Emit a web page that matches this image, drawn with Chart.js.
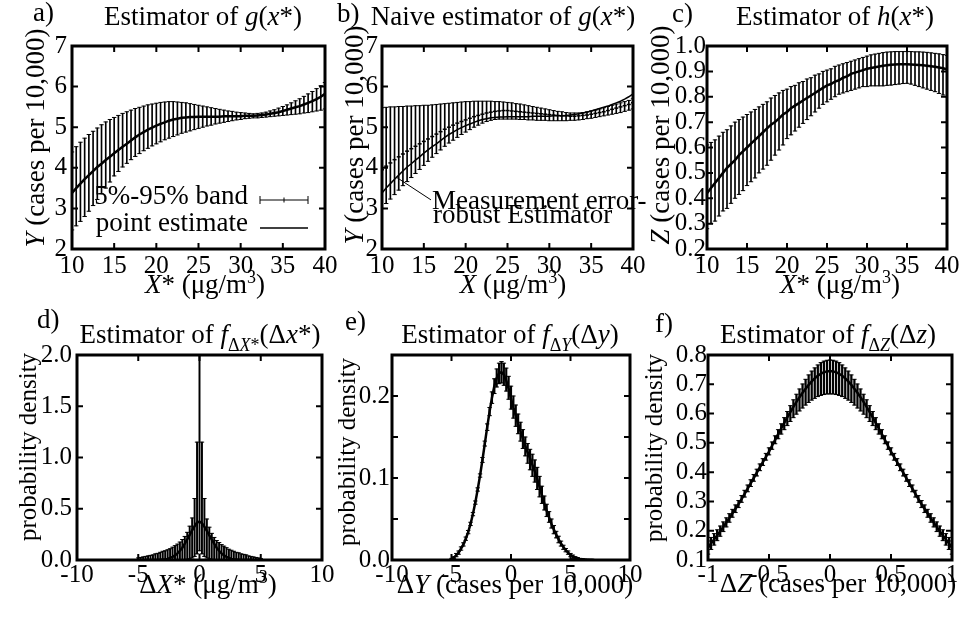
<!DOCTYPE html>
<html>
<head>
<meta charset="utf-8">
<script src="https://cdn.jsdelivr.net/npm/chart.js@4.4.1/dist/chart.umd.min.js"></script>
<style>
html, body { margin: 0; padding: 0; background: #fff; }
#wrap { position: relative; width: 962px; height: 618px; }
#wrap canvas { position: absolute; left: 0; top: 0; }
</style>
</head>
<body>
<div id="wrap">
<canvas id="pa" width="962" height="618"></canvas>
<canvas id="pb" width="962" height="618"></canvas>
<canvas id="pc" width="962" height="618"></canvas>
<canvas id="pd" width="962" height="618"></canvas>
<canvas id="pe" width="962" height="618"></canvas>
<canvas id="pf" width="962" height="618"></canvas>
</div>
<script>
// ---- data ----
// top row: X* (ug/m3), grid 10..40
const xTop = [10,10.5,11,11.5,12,12.5,13,13.5,14,14.5,15,15.5,16,16.5,17,17.5,18,18.5,19,19.5,
  20,20.5,21,21.5,22,22.5,23,23.5,24,24.5,25,25.5,26,26.5,27,27.5,28,28.5,29,29.5,
  30,30.5,31,31.5,32,32.5,33,33.5,34,34.5,35,35.5,36,36.5,37,37.5,38,38.5,39,39.5,40];

// a) estimator of g(x*)
const aMean = [3.38,3.50,3.61,3.72,3.82,3.92,4.02,4.10,4.19,4.27,
  4.36,4.44,4.52,4.59,4.67,4.75,4.82,4.88,4.94,4.99,
  5.04,5.08,5.12,5.16,5.19,5.21,5.23,5.24,5.25,5.25,
  5.26,5.26,5.26,5.26,5.26,5.26,5.27,5.27,5.27,5.27,
  5.27,5.28,5.28,5.28,5.29,5.30,5.31,5.33,5.35,5.37,
  5.40,5.43,5.46,5.49,5.52,5.56,5.60,5.64,5.69,5.75,5.82];
const aUp = [4.39,4.52,4.63,4.73,4.82,4.90,4.98,5.06,5.13,5.19,
  5.24,5.29,5.34,5.38,5.42,5.46,5.49,5.52,5.55,5.57,
  5.59,5.61,5.62,5.63,5.63,5.62,5.61,5.60,5.58,5.56,
  5.54,5.52,5.50,5.48,5.46,5.44,5.42,5.40,5.39,5.37,
  5.36,5.35,5.34,5.33,5.34,5.35,5.37,5.40,5.43,5.47,
  5.51,5.55,5.60,5.65,5.70,5.76,5.82,5.88,5.95,6.02,6.10];
const aLow = [2.47,2.57,2.68,2.80,2.93,3.07,3.22,3.36,3.50,3.65,
  3.80,3.91,4.02,4.11,4.20,4.28,4.35,4.42,4.48,4.54,
  4.59,4.64,4.69,4.73,4.77,4.81,4.85,4.88,4.91,4.94,
  4.97,5.00,5.03,5.05,5.08,5.10,5.12,5.14,5.16,5.18,
  5.19,5.21,5.22,5.23,5.23,5.24,5.25,5.26,5.27,5.28,
  5.29,5.30,5.31,5.32,5.33,5.35,5.36,5.38,5.40,5.42,5.45];

// b) naive estimator of g(x*)
const bNaive = [3.95,4.04,4.12,4.20,4.27,4.34,4.41,4.47,4.53,4.59,
  4.65,4.71,4.77,4.83,4.89,4.95,5.00,5.05,5.10,5.14,
  5.18,5.22,5.26,5.29,5.32,5.35,5.37,5.39,5.40,5.41,
  5.41,5.40,5.39,5.38,5.37,5.36,5.35,5.34,5.33,5.32,
  5.31,5.30,5.29,5.28,5.28,5.27,5.27,5.28,5.29,5.30,
  5.32,5.34,5.36,5.38,5.41,5.44,5.47,5.50,5.53,5.56,5.60];
const bUp = [5.48,5.49,5.50,5.50,5.51,5.51,5.52,5.52,5.53,5.53,
  5.54,5.54,5.55,5.56,5.57,5.58,5.59,5.60,5.61,5.62,
  5.63,5.63,5.64,5.64,5.64,5.64,5.64,5.63,5.63,5.62,
  5.61,5.60,5.58,5.57,5.55,5.53,5.51,5.49,5.47,5.45,
  5.43,5.41,5.39,5.38,5.36,5.35,5.35,5.35,5.36,5.38,
  5.40,5.42,5.45,5.48,5.51,5.54,5.57,5.60,5.63,5.66,5.70];
const bLow = [3.00,3.12,3.23,3.34,3.45,3.56,3.66,3.76,3.86,3.96,
  4.06,4.16,4.26,4.35,4.44,4.53,4.61,4.68,4.75,4.82,
  4.88,4.94,5.00,5.05,5.10,5.14,5.17,5.19,5.20,5.20,
  5.20,5.20,5.20,5.19,5.19,5.18,5.18,5.17,5.17,5.17,
  5.16,5.16,5.16,5.16,5.16,5.17,5.17,5.18,5.19,5.21,
  5.22,5.24,5.26,5.28,5.30,5.32,5.34,5.36,5.39,5.42,5.45];
// pointer from the label to the robust curve
const bNoteX = [11.7, 15.85];
const bNoteY = [3.77, 3.21];

// c) estimator of h(x*)
const cMean = [0.42,0.44,0.46,0.48,0.50,0.52,0.535,0.55,0.57,0.585,
  0.60,0.615,0.63,0.645,0.66,0.675,0.69,0.70,0.715,0.73,
  0.74,0.755,0.765,0.775,0.785,0.795,0.805,0.815,0.825,0.835,
  0.845,0.85,0.86,0.865,0.875,0.88,0.89,0.895,0.90,0.905,
  0.91,0.913,0.916,0.919,0.922,0.924,0.926,0.927,0.928,0.928,
  0.928,0.927,0.926,0.925,0.924,0.922,0.92,0.918,0.915,0.912,0.908];
const cUp = [0.61,0.62,0.63,0.645,0.66,0.67,0.685,0.70,0.71,0.72,
  0.73,0.74,0.75,0.76,0.77,0.78,0.795,0.805,0.815,0.825,
  0.83,0.84,0.845,0.855,0.86,0.87,0.875,0.885,0.89,0.90,
  0.905,0.91,0.92,0.925,0.93,0.935,0.94,0.945,0.95,0.955,
  0.96,0.965,0.968,0.971,0.974,0.976,0.977,0.978,0.978,0.978,
  0.978,0.978,0.977,0.977,0.976,0.975,0.973,0.971,0.969,0.966,0.963];
const cLow = [0.28,0.30,0.31,0.33,0.35,0.36,0.38,0.40,0.415,0.43,
  0.45,0.465,0.48,0.50,0.515,0.53,0.55,0.57,0.59,0.61,
  0.635,0.65,0.665,0.68,0.695,0.71,0.725,0.74,0.755,0.77,
  0.78,0.79,0.80,0.81,0.815,0.82,0.825,0.83,0.835,0.84,
  0.84,0.843,0.843,0.843,0.843,0.845,0.846,0.848,0.85,0.852,
  0.853,0.85,0.845,0.84,0.835,0.83,0.825,0.82,0.813,0.807,0.80];

// d) density of delta X*
const dX = [-5,-4.8,-4.6,-4.4,-4.2,-4,-3.8,-3.6,-3.4,-3.2,
  -3,-2.8,-2.6,-2.4,-2.2,-2,-1.8,-1.6,-1.4,-1.2,
  -1,-0.8,-0.6,-0.4,-0.2,0,0.2,0.4,0.6,0.8,
  1,1.2,1.4,1.6,1.8,2,2.2,2.4,2.6,2.8,
  3,3.2,3.4,3.6,3.8,4,4.2,4.4,4.6,4.8,5];
const dMean = [0,0,0,0,0,0,0,0,0,0.002,
  0.004,0.006,0.01,0.02,0.03,0.045,0.065,0.09,0.12,0.16,
  0.20,0.245,0.29,0.33,0.365,0.375,0.36,0.325,0.285,0.24,
  0.20,0.16,0.12,0.09,0.065,0.045,0.03,0.02,0.01,0.006,
  0.004,0.002,0,0,0,0,0,0,0,0,0];
const dUp = [0.02,0.025,0.03,0.035,0.04,0.045,0.05,0.06,0.065,0.075,
  0.085,0.09,0.10,0.11,0.125,0.14,0.155,0.175,0.20,0.23,
  0.27,0.33,0.41,0.60,1.15,2.10,1.15,0.60,0.40,0.32,
  0.26,0.22,0.19,0.17,0.15,0.135,0.12,0.105,0.095,0.085,
  0.075,0.07,0.06,0.055,0.05,0.04,0.035,0.03,0.025,0.02,0.015];
const dLow = [0,0,0,0,0,0,0,0,0,0,
  0,0,0,0,0,0,0,0,0.003,0.005,
  0.008,0.012,0.02,0.035,0.06,0.09,0.06,0.035,0.02,0.012,
  0.008,0.005,0.003,0,0,0,0,0,0,0,
  0,0,0,0,0,0,0,0,0,0,0];

// e) density of delta Y
const eX = [-5,-4.8,-4.6,-4.4,-4.2,-4,-3.8,-3.6,-3.4,-3.2,
  -3,-2.8,-2.6,-2.4,-2.2,-2,-1.8,-1.6,-1.4,-1.2,
  -1,-0.8,-0.6,-0.4,-0.2,0,0.2,0.4,0.6,0.8,
  1,1.2,1.4,1.6,1.8,2,2.2,2.4,2.6,2.8,
  3,3.2,3.4,3.6,3.8,4,4.2,4.4,4.6,4.8,
  5,5.2,5.4,5.6,5.8,6,6.2,6.4,6.6,6.8,7];
const eMean = [0.001,0.003,0.006,0.009,0.014,0.019,0.026,0.034,0.044,0.056,
  0.070,0.086,0.103,0.122,0.142,0.162,0.181,0.198,0.212,0.222,
  0.228,0.229,0.226,0.219,0.209,0.197,0.186,0.176,0.166,0.157,
  0.148,0.139,0.131,0.124,0.116,0.108,0.099,0.089,0.079,0.069,
  0.060,0.052,0.044,0.037,0.031,0.025,0.020,0.016,0.012,0.009,
  0.006,0.004,0.003,0.002,0.001,0.0008,0.0005,0.0004,0.0003,0.0002,0.0001];
const eUp = [0.002,0.004,0.008,0.011,0.016,0.021,0.028,0.036,0.046,0.058,
  0.072,0.088,0.105,0.125,0.145,0.166,0.186,0.205,0.221,0.233,
  0.240,0.242,0.240,0.234,0.224,0.212,0.200,0.189,0.178,0.168,
  0.159,0.150,0.142,0.135,0.129,0.122,0.113,0.102,0.090,0.078,
  0.068,0.059,0.050,0.042,0.035,0.029,0.023,0.018,0.014,0.011,
  0.008,0.006,0.004,0.003,0.002,0.0015,0.001,0.0008,0.0006,0.0004,0.0003];
const eLow = [0,0.002,0.004,0.007,0.012,0.017,0.024,0.032,0.042,0.054,
  0.068,0.084,0.101,0.119,0.139,0.158,0.176,0.191,0.203,0.211,
  0.215,0.216,0.213,0.206,0.196,0.184,0.173,0.163,0.154,0.145,
  0.136,0.127,0.118,0.110,0.102,0.095,0.086,0.077,0.069,0.061,
  0.053,0.046,0.039,0.032,0.027,0.021,0.017,0.013,0.010,0.007,
  0.004,0.002,0.001,0.001,0,0,0,0,0,0,0];

// f) density of delta Z
const fX = [-1,-0.975,-0.95,-0.925,-0.9,-0.875,-0.85,-0.825,-0.8,-0.775,
  -0.75,-0.725,-0.7,-0.675,-0.65,-0.625,-0.6,-0.575,-0.55,-0.525,
  -0.5,-0.475,-0.45,-0.425,-0.4,-0.375,-0.35,-0.325,-0.3,-0.275,
  -0.25,-0.225,-0.2,-0.175,-0.15,-0.125,-0.1,-0.075,-0.05,-0.025,
  0,0.025,0.05,0.075,0.1,0.125,0.15,0.175,0.2,0.225,
  0.25,0.275,0.3,0.325,0.35,0.375,0.4,0.425,0.45,0.475,
  0.5,0.525,0.55,0.575,0.6,0.625,0.65,0.675,0.7,0.725,
  0.75,0.775,0.8,0.825,0.85,0.875,0.9,0.925,0.95,0.975,1];
const fMean = [0.142,0.156,0.170,0.184,0.198,0.213,0.228,0.243,0.259,0.275,
  0.291,0.308,0.326,0.344,0.362,0.380,0.398,0.416,0.434,0.452,
  0.470,0.490,0.510,0.530,0.549,0.568,0.587,0.605,0.623,0.640,
  0.656,0.671,0.685,0.698,0.710,0.720,0.729,0.736,0.741,0.744,
  0.745,0.744,0.741,0.736,0.729,0.720,0.710,0.698,0.685,0.671,
  0.656,0.640,0.623,0.605,0.587,0.568,0.549,0.530,0.510,0.490,
  0.470,0.452,0.434,0.416,0.398,0.380,0.362,0.344,0.326,0.308,
  0.291,0.275,0.259,0.243,0.228,0.213,0.198,0.184,0.170,0.156,0.142];
const fUp = [0.165,0.177,0.190,0.203,0.216,0.230,0.244,0.258,0.273,0.288,
  0.303,0.320,0.338,0.356,0.374,0.392,0.410,0.428,0.446,0.464,
  0.483,0.503,0.524,0.545,0.565,0.586,0.607,0.627,0.647,0.666,
  0.684,0.701,0.717,0.732,0.745,0.756,0.766,0.774,0.779,0.782,
  0.783,0.782,0.779,0.774,0.766,0.756,0.745,0.732,0.717,0.701,
  0.684,0.666,0.647,0.627,0.607,0.586,0.565,0.545,0.524,0.503,
  0.483,0.464,0.446,0.428,0.410,0.392,0.374,0.356,0.338,0.320,
  0.303,0.288,0.273,0.258,0.244,0.230,0.216,0.203,0.190,0.177,0.165];
const fLow = [0.120,0.136,0.151,0.166,0.181,0.197,0.213,0.229,0.246,0.262,
  0.279,0.297,0.315,0.333,0.351,0.369,0.387,0.405,0.423,0.441,
  0.459,0.478,0.497,0.514,0.530,0.545,0.559,0.573,0.586,0.598,
  0.609,0.619,0.629,0.638,0.646,0.652,0.658,0.662,0.665,0.667,
  0.667,0.667,0.665,0.662,0.658,0.652,0.646,0.638,0.629,0.619,
  0.609,0.598,0.586,0.573,0.559,0.545,0.530,0.514,0.497,0.478,
  0.459,0.441,0.423,0.405,0.387,0.369,0.351,0.333,0.315,0.297,
  0.279,0.262,0.246,0.229,0.213,0.197,0.181,0.166,0.151,0.136,0.120];

// ---- drawing helpers ----
const FONT = '"Liberation Serif", "Times New Roman", serif';
Chart.defaults.font.family = FONT;
Chart.defaults.color = '#000';

const W = 962, H = 618, YW = 40, XH = 30, TXT = 27;

function segFont(s, size) {
  const f = s[1] || '';
  const sz = (f.includes('b') || f.includes('p')) ? Math.round(size * 0.68) : size;
  return (f.includes('i') ? 'italic ' : '') + sz + 'px ' + FONT;
}

// segs: [[text, flags]] flags: i = italic, b = subscript, p = superscript
function drawRich(ctx, segs, x, y, size, align) {
  let w = 0;
  segs.forEach(s => { ctx.font = segFont(s, size); w += ctx.measureText(s[0]).width; });
  let cx = align === 'center' ? x - w / 2 : align === 'right' ? x - w : x;
  ctx.textAlign = 'left';
  segs.forEach(s => {
    const f = s[1] || '';
    ctx.font = segFont(s, size);
    const dy = f.includes('b') ? size * 0.28 : f.includes('p') ? -size * 0.36 : 0;
    ctx.fillText(s[0], cx, y + dy);
    cx += ctx.measureText(s[0]).width;
  });
}

function pairs(xs, ys) { return xs.map((x, i) => ({ x: x, y: ys[i] })); }

function makePanel(id, p) {
  const datasets = [];
  (p.lines || []).forEach(l => datasets.push({
    type: 'line', data: pairs(l.x || p.x, l.y), borderColor: '#000', borderWidth: l.w,
    pointRadius: 0, tension: 0, order: 0
  }));
  if (p.mid) datasets.push({
    type: 'line', showLine: false, data: pairs(p.x, p.mid), pointStyle: 'line',
    pointRadius: 2, borderColor: '#000', borderWidth: 1.5, order: 1
  });
  datasets.push({
    type: 'line', showLine: false, data: pairs(p.x, p.hi).concat(pairs(p.x, p.lo)),
    pointStyle: 'line', pointRadius: 2.2, borderColor: '#000', borderWidth: 1, order: 2
  });
  datasets.push({
    type: 'bar', data: p.x.map((x, i) => ({ x: x, y: [p.lo[i], p.hi[i]] })),
    backgroundColor: '#000', barThickness: p.barW || 1, borderWidth: 0, order: 3
  });

  const a = p.area;
  const deco = {
    id: 'deco',
    afterDraw(chart) {
      const ctx = chart.ctx, ca = chart.chartArea;
      const xs = chart.scales.x, ys = chart.scales.y;
      ctx.save();
      ctx.strokeStyle = '#000';
      ctx.fillStyle = '#000';
      ctx.lineWidth = 2;
      ctx.beginPath();
      xs.ticks.forEach(t => {
        const px = xs.getPixelForValue(t.value);
        if (px < ca.left + 2 || px > ca.right - 2) return;
        ctx.moveTo(px, ca.bottom); ctx.lineTo(px, ca.bottom - 6);
        ctx.moveTo(px, ca.top); ctx.lineTo(px, ca.top + 6);
      });
      ys.ticks.forEach(t => {
        const py = ys.getPixelForValue(t.value);
        if (py < ca.top + 2 || py > ca.bottom - 2) return;
        ctx.moveTo(ca.left, py); ctx.lineTo(ca.left + 6, py);
        ctx.moveTo(ca.right, py); ctx.lineTo(ca.right - 6, py);
      });
      ctx.stroke();
      ctx.lineWidth = 3;
      ctx.strokeRect(ca.left, ca.top, ca.right - ca.left, ca.bottom - ca.top);

      ctx.textBaseline = 'alphabetic';
      drawRich(ctx, [[p.tag[0]]], p.tag[1], p.tag[2], TXT, 'left');
      drawRich(ctx, p.title, p.titlePos[0], p.titlePos[1], TXT, 'center');
      drawRich(ctx, p.xTitle, p.xTitlePos[0], p.xTitlePos[1], TXT, 'center');
      ctx.save();
      ctx.translate(p.yTitlePos[0], p.yTitlePos[1]);
      ctx.rotate(-Math.PI / 2);
      drawRich(ctx, p.yTitle, 0, 0.3 * p.yTitleSize, p.yTitleSize, 'center');
      ctx.restore();
      if (p.extra) p.extra(ctx, chart);
      ctx.restore();
    }
  };

  return new Chart(document.getElementById(id), {
    type: 'bar',
    data: { datasets: datasets },
    options: {
      responsive: false,
      animation: false,
      events: [],
      layout: {
        autoPadding: false,
        padding: { left: a[0] - YW, top: a[1], right: W - a[2], bottom: H - a[3] - XH }
      },
      plugins: { legend: { display: false }, tooltip: { enabled: false } },
      scales: {
        x: {
          type: 'linear', min: p.xMin, max: p.xMax, offset: false,
          grid: { display: false, drawTicks: false, offset: false },
          border: { display: false },
          ticks: { stepSize: p.xStep, autoSkip: false, maxRotation: 0, padding: p.xPad,
                   color: '#000', font: { family: FONT, size: 25 }, callback: v => String(v) },
          afterFit: s => { s.height = XH; }
        },
        y: {
          type: 'linear', min: p.yMin, max: p.yMax,
          grid: { display: false, drawTicks: false },
          border: { display: false },
          ticks: { stepSize: p.yStep, autoSkip: false, padding: p.yPad,
                   color: '#000', font: { family: FONT, size: 25 }, callback: p.yFmt },
          afterFit: s => { s.width = YW; }
        }
      }
    },
    plugins: [deco]
  });
}

const int = v => String(v);
const one = v => v.toFixed(1);

makePanel('pa', {
  x: xTop, lo: aLow, hi: aUp, lines: [{ y: aMean, w: 2.5 }],
  xMin: 10, xMax: 40, xStep: 5, yMin: 2, yMax: 7, yStep: 1, yFmt: int,
  area: [72, 46, 325, 249], xPad: 2, yPad: 5,
  tag: ['a)', 33, 21],
  title: [['Estimator of '], ['g', 'i'], ['('], ['x', 'i'], ['*)']], titlePos: [203, 25],
  xTitle: [['X', 'i'], ['* (μg/m'], ['3', 'p'], [')']], xTitlePos: [205, 293],
  yTitle: [['Y', 'i'], [' (cases per 10,000)']], yTitlePos: [36, 138], yTitleSize: 27,
  extra: (ctx) => {
    drawRich(ctx, [['5%-95% band']], 248, 204, TXT, 'right');
    drawRich(ctx, [['point estimate']], 248, 231, TXT, 'right');
    ctx.lineWidth = 1;
    ctx.beginPath();
    ctx.moveTo(260, 200); ctx.lineTo(308, 200);
    ctx.moveTo(260, 196); ctx.lineTo(260, 204);
    ctx.moveTo(308, 196); ctx.lineTo(308, 204);
    ctx.moveTo(284, 197.5); ctx.lineTo(284, 202.5);
    ctx.stroke();
    ctx.lineWidth = 1.5;
    ctx.beginPath();
    ctx.moveTo(260, 228); ctx.lineTo(308, 228);
    ctx.stroke();
  }
});

makePanel('pb', {
  x: xTop, lo: bLow, hi: bUp, mid: bNaive,
  lines: [{ y: aMean, w: 1.5 }, { x: bNoteX, y: bNoteY, w: 1 }],
  xMin: 10, xMax: 40, xStep: 5, yMin: 2, yMax: 7, yStep: 1, yFmt: int,
  area: [382, 46, 633, 249], xPad: 2, yPad: 4,
  tag: ['b)', 337, 22],
  title: [['Naive estimator of '], ['g', 'i'], ['('], ['x', 'i'], ['*)']], titlePos: [503, 25],
  xTitle: [['X', 'i'], [' (μg/m'], ['3', 'p'], [')']], xTitlePos: [513, 293],
  yTitle: [['Y', 'i'], [' (cases per 10,000)']], yTitlePos: [355, 135], yTitleSize: 27,
  extra: (ctx) => {
    drawRich(ctx, [['Measurement error-']], 432, 209, TXT, 'left');
    drawRich(ctx, [['robust Estimator']], 433, 223, TXT, 'left');
  }
});

makePanel('pc', {
  x: xTop, lo: cLow, hi: cUp, lines: [{ y: cMean, w: 2.5 }],
  xMin: 10, xMax: 40, xStep: 5, yMin: 0.2, yMax: 1.0, yStep: 0.1, yFmt: one,
  area: [707, 46, 947, 249], xPad: 2, yPad: 1,
  tag: ['c)', 672, 22],
  title: [['Estimator of '], ['h', 'i'], ['('], ['x', 'i'], ['*)']], titlePos: [835, 25],
  xTitle: [['X', 'i'], ['* (μg/m'], ['3', 'p'], [')']], xTitlePos: [840, 293],
  yTitle: [['Z', 'i'], [' (cases per 10,000)']], yTitlePos: [661, 135], yTitleSize: 27
});

makePanel('pd', {
  x: dX, lo: dLow, hi: dUp, lines: [{ y: dMean, w: 2.5 }],
  xMin: -10, xMax: 10, xStep: 5, yMin: 0, yMax: 2.0, yStep: 0.5, yFmt: one,
  area: [77, 355, 322, 560], xPad: 0, yPad: 5, barW: 1.3,
  tag: ['d)', 37, 328],
  title: [['Estimator of '], ['f', 'i'], ['Δ', 'b'], ['X', 'ib'], ['*', 'b'], ['(Δ'], ['x', 'i'], ['*)']],
  titlePos: [200, 343],
  xTitle: [['Δ'], ['X', 'i'], ['* (μg/m'], ['3', 'p'], [')']], xTitlePos: [208, 593],
  yTitle: [['probability density']], yTitlePos: [28, 447], yTitleSize: 25
});

makePanel('pe', {
  x: eX, lo: eLow, hi: eUp, lines: [{ y: eMean, w: 2.5 }],
  xMin: -10, xMax: 10, xStep: 5, yMin: 0, yMax: 0.25, yStep: 0.05,
  yFmt: v => (Math.round(v * 100) % 10 === 0 ? v.toFixed(1) : ''),
  area: [392, 355, 630, 560], xPad: 0, yPad: 2, barW: 1.5,
  tag: ['e)', 345, 330],
  title: [['Estimator of '], ['f', 'i'], ['Δ', 'b'], ['Y', 'ib'], ['(Δ'], ['y', 'i'], [')']],
  titlePos: [510, 343],
  xTitle: [['Δ'], ['Y', 'i'], [' (cases per 10,000)']], xTitlePos: [515, 593],
  yTitle: [['probability density']], yTitlePos: [347, 452], yTitleSize: 25
});

makePanel('pf', {
  x: fX, lo: fLow, hi: fUp, lines: [{ y: fMean, w: 2.5 }],
  xMin: -1, xMax: 1, xStep: 0.5, yMin: 0.1, yMax: 0.8, yStep: 0.1, yFmt: one,
  area: [708, 355, 952, 560], xPad: 0, yPad: 1, barW: 1.6,
  tag: ['f)', 655, 332],
  title: [['Estimator of '], ['f', 'i'], ['Δ', 'b'], ['Z', 'ib'], ['(Δ'], ['z', 'i'], [')']],
  titlePos: [828, 343],
  xTitle: [['Δ'], ['Z', 'i'], [' (cases per 10,000)']], xTitlePos: [838, 592],
  yTitle: [['probability density']], yTitlePos: [654, 448], yTitleSize: 25
});
</script>
</body>
</html>
